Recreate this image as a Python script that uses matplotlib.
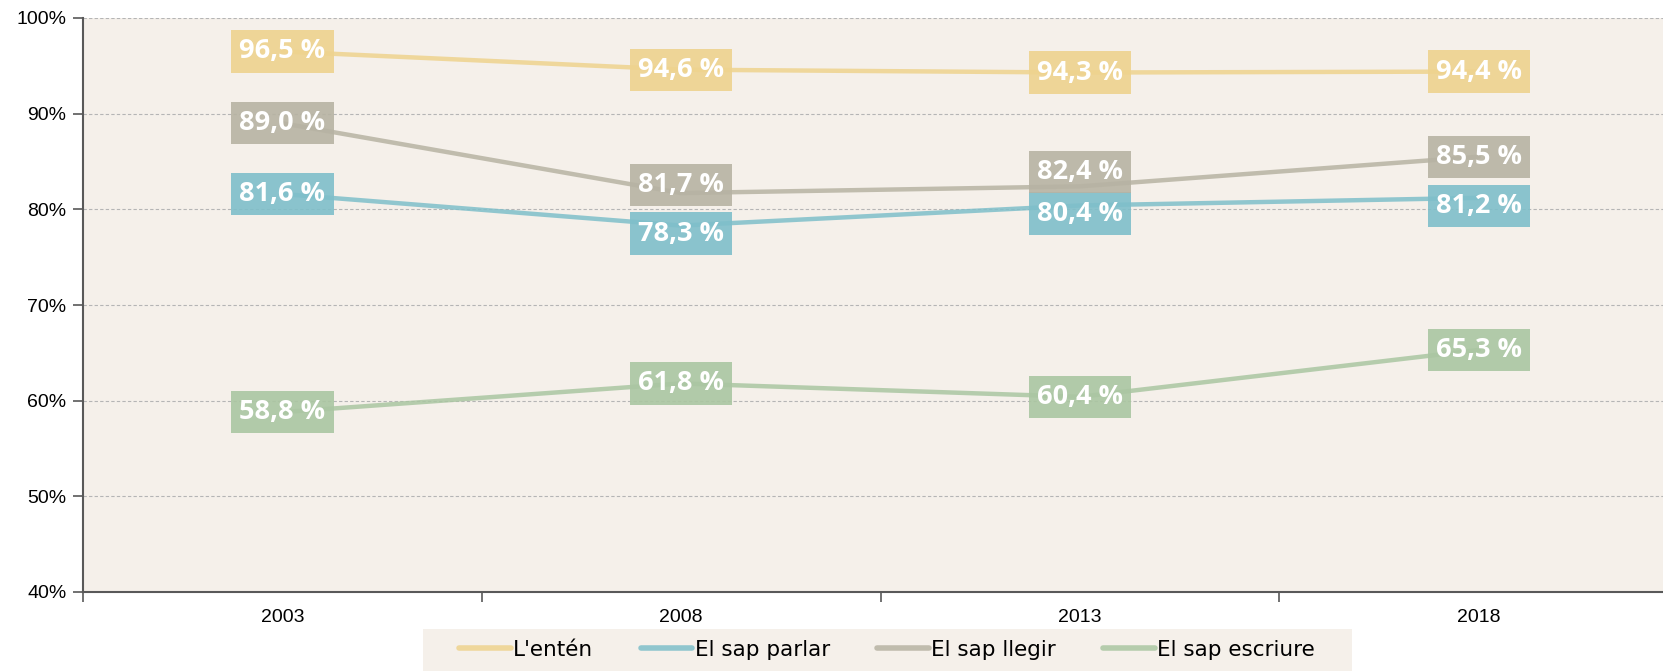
import matplotlib.pyplot as plt
from matplotlib.patches import Rectangle

# dades
anys = ['2003', '2008', '2013', '2018']
enten = [96.5, 94.6, 94.3, 94.4]
parlar = [81.6, 78.3, 80.4, 81.2]
llegir = [89.0, 81.7, 82.4, 85.5]
escriure = [58.8, 61.8, 60.4, 65.3]

series = [
    ("L'entén", enten, '#eed38e'),
    ('El sap parlar', parlar, '#7fbfca'),
    ('El sap llegir', llegir, '#b7b3a3'),
    ('El sap escriure', escriure, '#aac6a2'),
]

# petits desplaçaments (px) de les etiquetes per evitar solapaments
despl = {
    ('El sap parlar', 1): -8, ('El sap llegir', 1): 8,
    ('El sap parlar', 2): -8, ('El sap llegir', 2): 14,
    ('El sap parlar', 3): -8,
}

fons = '#f5f0ea'

fig = plt.figure(figsize=(16.63, 6.71), dpi=100)
ax = fig.add_axes([83 / 1663, 79 / 671, 1595 / 1663, 574 / 671])
ax.set_facecolor(fons)

x = list(range(len(anys)))
for nom, vals, col in series:
    ax.plot(x, vals, color=col, lw=3.2, alpha=0.85, zorder=3,
            solid_capstyle='round', label=nom)
    for i, v in enumerate(vals):
        dy = despl.get((nom, i), 0) * 0.72
        text = '{:.1f} %'.format(v).replace('.', ',')
        # caixa (darrere la línia)
        ax.annotate(text, (i, v), xytext=(0, dy), textcoords='offset points',
                    ha='center', va='center', fontsize=19.5, fontweight='bold',
                    family='Open Sans', color='none', zorder=2,
                    bbox=dict(boxstyle='square,pad=0.3', fc=col, ec='none', alpha=0.9))
        # text (davant)
        ax.annotate(text, (i, v), xytext=(0, dy), textcoords='offset points',
                    ha='center', va='center', fontsize=19.5, fontweight='bold',
                    family='Open Sans', color='white', zorder=4)

ax.set_xlim(-0.5, 3.5)
ax.set_ylim(40, 100)
ax.set_yticks(range(40, 101, 10))
ax.set_yticklabels(['{}%'.format(v) for v in range(40, 101, 10)],
                   fontsize=14, family='Liberation Sans')
ax.set_xticks([-0.5, 0.5, 1.5, 2.5, 3.5])
ax.set_xticklabels([])
ax.set_xticks(x, minor=True)
ax.set_xticklabels(anys, minor=True, fontsize=14, family='Liberation Sans')
ax.tick_params(axis='x', which='minor', length=0, pad=12)
ax.tick_params(axis='x', which='major', length=7, width=1.2, color='#595959')
ax.tick_params(axis='y', length=7, width=1.2, color='#595959', pad=5)

for g in range(50, 101, 10):
    ax.axhline(g, color='#b5b5b5', lw=0.8, ls=(0, (3, 2)), zorder=1)

for s in ['top', 'right']:
    ax.spines[s].set_visible(False)
for s in ['left', 'bottom']:
    ax.spines[s].set_color('#595959')
    ax.spines[s].set_linewidth(1.5)

# fons de la llegenda
fig.patches.append(Rectangle((423 / 1663, 0), 929 / 1663, 42 / 671,
                             transform=fig.transFigure, fc=fons, ec='none', zorder=0))

leg = fig.legend(loc='center', bbox_to_anchor=(887 / 1663, 21 / 671), ncol=4,
                 frameon=False, prop={'family': 'DejaVu Sans', 'size': 15.5},
                 handlelength=2.4, handletextpad=0.1, columnspacing=2.2,
                 borderpad=0.3, borderaxespad=0)
for l in leg.get_lines():
    l.set_linewidth(4)

fig.savefig('out.png', dpi=100)
